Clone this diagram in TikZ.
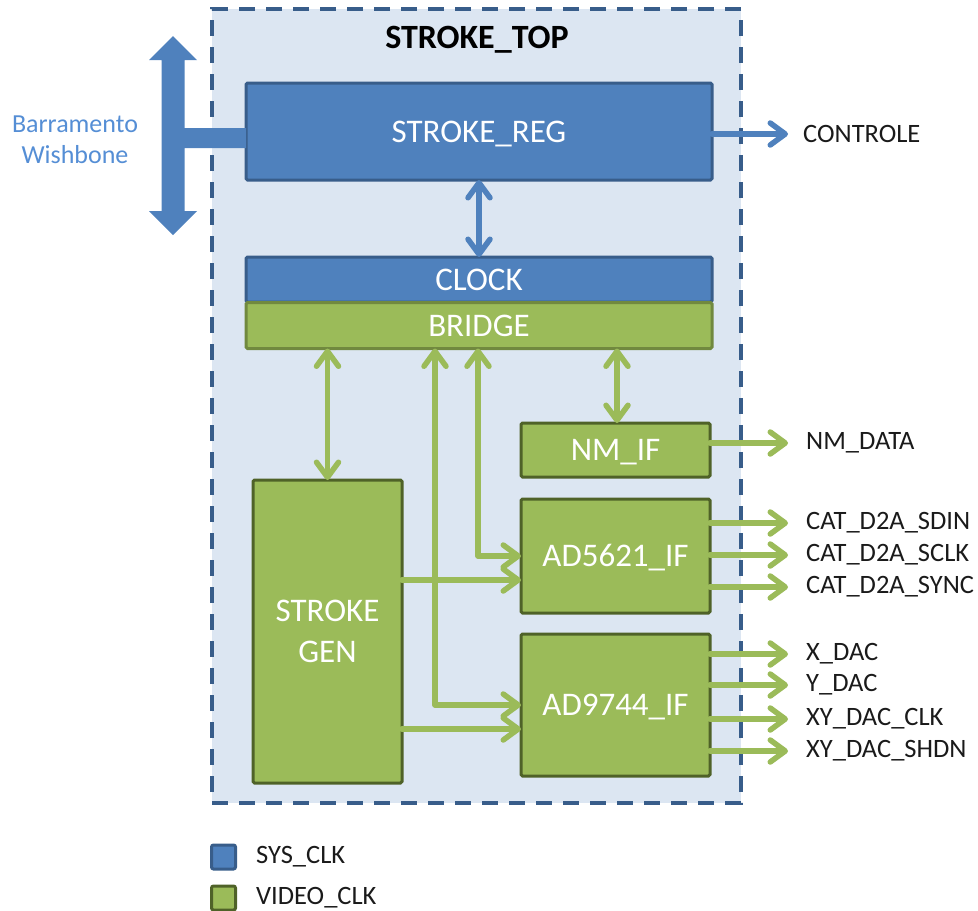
\documentclass[tikz,border=0pt]{standalone}
\usepackage{fontspec}
\setmainfont{Carlito}
\usetikzlibrary{arrows.meta}
\definecolor{blueF}{HTML}{4F81BD}
\definecolor{blueD}{HTML}{385D8A}
\definecolor{greenF}{HTML}{9BBB59}
\definecolor{greenD}{HTML}{4F6228}
\definecolor{greenM}{HTML}{71893F}
\definecolor{outerF}{HTML}{DCE6F2}
\definecolor{outerD}{HTML}{385D8A}
\definecolor{busC}{HTML}{558ED5}
\definecolor{txt}{HTML}{1A1A1A}
\begin{document}
\begin{tikzpicture}[x=1pt,y=-1pt,
  chev/.tip={Straight Barb[length=15pt,width=22pt,line cap=round,line join=round]},
  box/.style={line width=3pt, inner sep=0pt, outer sep=0pt, text=white,
    font=\fontsize{33}{38}\selectfont, rounded corners=1.5pt},
  bbox/.style={box, fill=blueF, draw=blueD},
  gbox/.style={box, fill=greenF, draw=greenD},
  lbl/.style={font=\fontsize{26.5}{30}\selectfont, text=txt, inner ysep=0pt, anchor=west},
  garrow/.style={draw=greenF, line width=5.5pt, line cap=round, line join=round},
  barrow/.style={draw=blueF, line width=5.5pt, line cap=round, line join=round},
  capc/.style={text height=21pt, text depth=0pt}
]
\useasboundingbox (0,0) rectangle (978,911);

% container
\node[draw=outerD, fill=outerF, line width=3.5pt, dash pattern=on 16pt off 11pt,
  minimum width=529pt, minimum height=794pt, inner sep=0pt] (top) at (476.5,406) {};
\node[font=\bfseries\fontsize{34}{38}\selectfont, text=black, capc, inner sep=0pt] (title) at (477,38) {STROKE\_TOP};

% blocks
\node[bbox, capc, minimum width=466pt, minimum height=97pt] (reg) at (479,131.5) {STROKE\_REG};
\node[bbox, capc, minimum width=466pt, minimum height=45pt] (clock) at (479,279.5) {CLOCK};
\node[gbox, draw=greenM, capc, minimum width=466pt, minimum height=46pt] (bridge) at (479,325.5) {BRIDGE};
\node[gbox, capc, minimum width=189pt, minimum height=54pt] (nmif) at (615.5,450) {NM\_IF};
\node[gbox, capc, minimum width=189pt, minimum height=114pt] (ad5621) at (615.5,556) {AD5621\_IF};
\node[gbox, capc, minimum width=189pt, minimum height=142pt] (ad9744) at (615.5,705) {AD9744\_IF};
\node[gbox, align=center, minimum width=149pt, minimum height=303pt,
  font=\fontsize{33}{41}\selectfont] (gen) at (327.5,631.5) {STROKE\\GEN};

% bus
\fill[blueF] (173,36) -- (197,60) -- (184.5,60) -- (184.5,128) -- (reg.west |- 0,128)
  -- (reg.west |- 0,148) -- (184.5,148) -- (184.5,211) -- (197,211) -- (173,235)
  -- (149,211) -- (161.5,211) -- (161.5,60) -- (149,60) -- cycle;
\node[font=\fontsize{26}{31}\selectfont, text=busC, align=center, inner sep=0pt] (bus) at (75,140) {Barramento\\Wishbone};

% helper coordinates
\coordinate (vA) at (435,0);
\coordinate (vB) at (478,0);
\coordinate (vC) at (617,0);
\coordinate (hA) at (0,580);
\coordinate (hB) at (0,729);

% internal connectors
\draw[barrow, chev-chev] (reg.south) -- (clock.north);
\draw[garrow, chev-chev] (bridge.south -| gen.north) -- (gen.north);
\draw[garrow, chev-chev] (bridge.south -| vC) -- (nmif.north -| vC);
\draw[garrow, chev-chev] (bridge.south -| vB) |- (ad5621.west);
\draw[garrow, chev-chev] (bridge.south -| vA) |- (ad9744.west);
\draw[garrow, -chev] (gen.east |- hA) -- (ad5621.west |- hA);
\draw[garrow, -chev] (gen.east |- hB) -- (ad9744.west |- hB);

% outputs
\node[lbl, inner xsep=15pt] (ctrl) at (788,134) {CONTROLE};
\draw[barrow, -chev] (reg.east |- ctrl.west) -- (ctrl.west);

\node[lbl, inner xsep=18pt] (o1) at (788,443) {NM\_DATA};
\node[lbl, inner xsep=18pt] (o2) at (788,523) {CAT\_D2A\_SDIN};
\node[lbl, inner xsep=18pt] (o3) at (788,555) {CAT\_D2A\_SCLK};
\node[lbl, inner xsep=18pt] (o4) at (788,587) {CAT\_D2A\_SYNC};
\node[lbl, inner xsep=18pt] (o5) at (788,654) {X\_DAC};
\node[lbl, inner xsep=18pt] (o6) at (788,685) {Y\_DAC};
\node[lbl, inner xsep=18pt] (o7) at (788,719) {XY\_DAC\_CLK};
\node[lbl, inner xsep=18pt] (o8) at (788,751) {XY\_DAC\_SHDN};
\draw[garrow, -chev] (nmif.east |- o1.west) -- (o1.west);
\foreach \o in {o2,o3,o4} \draw[garrow, -chev] (ad5621.east |- \o.west) -- (\o.west);
\foreach \o in {o5,o6,o7,o8} \draw[garrow, -chev] (ad9744.east |- \o.west) -- (\o.west);

% legend
\node[draw=blueD, fill=blueF, line width=3pt, minimum size=24pt, inner sep=0pt, rounded corners=2pt] (lg1) at (223.5,857) {};
\node[draw=greenD, fill=greenF, line width=3pt, minimum size=24pt, inner sep=0pt, rounded corners=2pt] (lg2) at (223.5,898) {};
\node[lbl, inner xsep=0pt] (lt1) at (256,857) {SYS\_CLK};
\node[lbl, inner xsep=0pt] (lt2) at (256,898) {VIDEO\_CLK};
\end{tikzpicture}
\end{document}
